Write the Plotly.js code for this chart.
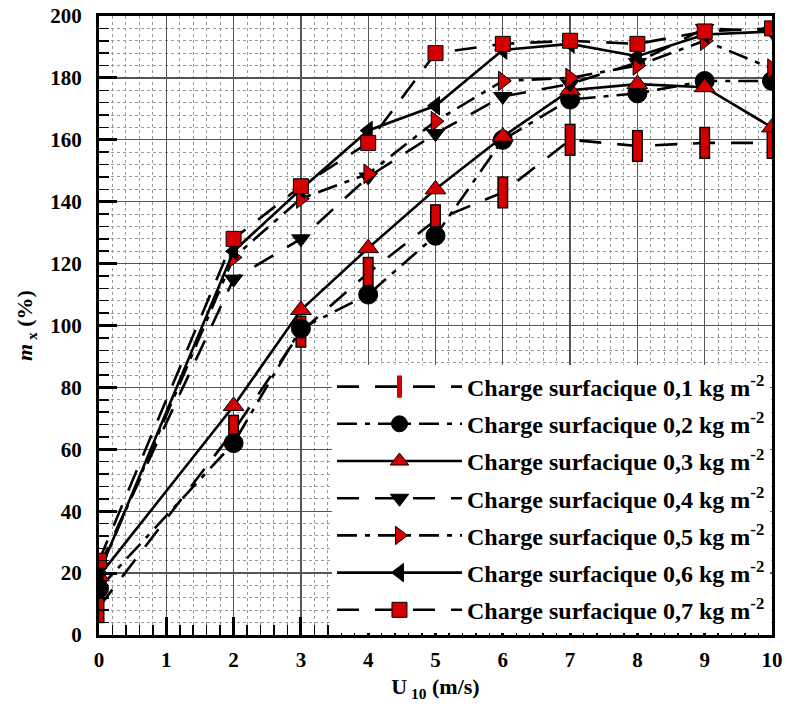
<!DOCTYPE html>
<html><head><meta charset="utf-8">
<script src="https://cdn.plot.ly/plotly-3.0.1.min.js"></script>
<style>html,body{margin:0;padding:0;background:#fff}#chart{width:787px;height:704px}</style>
</head><body><div id="chart"></div>
<script>
// wind speed U10 (m/s)
const windSpeed = [0, 2, 3, 4, 5, 6, 7, 8, 9, 10];
// m_x (%) per surface load
const load01 = [9, 66, 98, 117, 134, 143, 160, 158, 159, 159];
const load02 = [15, 62, 99, 110, 129, 160, 173, 175, 179, 179];
const load03 = [19, 74, 105, 125, 144, 161, 176, 178, 177, 164];
const load04 = [22, 115, 128, 148, 162, 174, 178, 185, 196, 195];
const load05 = [20, 122, 141, 149, 166, 179, 180, 184, 192, 183];
const load06 = [20, 124, 144, 163, 171, 189, 191, 187, 194, 195];
const load07 = [24, 128, 145, 159, 188, 191, 192, 191, 195, 196];
const seriesNames = [
  'Charge surfacique 0,1 kg m<sup>-2</sup>',
  'Charge surfacique 0,2 kg m<sup>-2</sup>',
  'Charge surfacique 0,3 kg m<sup>-2</sup>',
  'Charge surfacique 0,4 kg m<sup>-2</sup>',
  'Charge surfacique 0,5 kg m<sup>-2</sup>',
  'Charge surfacique 0,6 kg m<sup>-2</sup>',
  'Charge surfacique 0,7 kg m<sup>-2</sup>'
];
const xTickVals = [0,1,2,3,4,5,6,7,8,9,10];
const yTickVals = [0,20,40,60,80,100,120,140,160,180,200];

const RED = '#d40000';
const DASH = '22px,16px';
const DASHDOT = '20px,8px,5px,8px';
const LW = 2.6;

function tr(y, name, dash, symbol, size, color, idx, extra) {
  return Object.assign({
    x: windSpeed, y: y, name: name, type: 'scatter', mode: 'lines+markers',
    legendgroup: 'g' + idx,
    line: {color: '#000', width: LW, dash: dash},
    marker: {symbol: symbol, size: size, color: color, line: {color: '#000', width: 1}}
  }, extra || {});
}

const traces = [
  // black outline for the tall rectangle markers of the 0,1 series
  {x: windSpeed, y: load01, type: 'scatter', mode: 'markers', showlegend: false, hoverinfo: 'skip',
   marker: {symbol: 'line-ns-open', size: 23, color: '#000', line: {color: '#000', width: 11}}},
  tr(load01, seriesNames[0], DASH, 'line-ns-open', 21, RED, 1, {marker: {symbol: 'line-ns-open', size: 21, color: RED, line: {color: RED, width: 8}}}),
  tr(load02, seriesNames[1], DASHDOT, 'circle', 19, '#000', 2),
  tr(load03, seriesNames[2], 'solid', 'triangle-up', 18, RED, 3),
  tr(load04, seriesNames[3], DASH, 'triangle-down', 16, '#000', 4),
  tr(load05, seriesNames[4], DASHDOT, 'triangle-right', 17, RED, 5),
  tr(load06, seriesNames[5], 'solid', 'triangle-left', 16, '#000', 6),
  tr(load07, seriesNames[6], DASH, 'square', 15, RED, 7)
];

const FONT = '"Liberation Serif", "Times New Roman", serif';
const axisCommon = {
  showline: true, linewidth: 3, linecolor: '#000', mirror: true,
  ticks: 'inside', ticklen: 18, tickwidth: 3, tickcolor: '#000',
  showgrid: true, gridcolor: '#555', gridwidth: 1.3,
  zeroline: false,
  tickfont: {family: FONT, size: 21, color: '#000', weight: 'bold'}
};

const layout = {
  width: 787, height: 704,
  margin: {l: 99, r: 15, t: 16, b: 69},
  paper_bgcolor: '#fff', plot_bgcolor: '#fff',
  font: {family: FONT, color: '#000'},
  showlegend: true,
  xaxis: Object.assign({}, axisCommon, {
    range: [0, 10], tickvals: xTickVals, ticktext: xTickVals.map(String),
    ticklabelstandoff: 4,
    minor: {dtick: 0.2, tick0: 0, ticks: 'inside', ticklen: 10, tickwidth: 1.5, tickcolor: '#000',
            showgrid: true, gridcolor: '#999', griddash: 'dot', gridwidth: 1},
    title: {text: 'U<sub> 10</sub> (m/s)', font: {family: FONT, size: 22, color: '#000', weight: 'bold'}, standoff: 8}
  }),
  yaxis: Object.assign({}, axisCommon, {
    range: [0, 200], tickvals: yTickVals, ticktext: yTickVals.map(String),
    ticklabelstandoff: 10,
    minor: {dtick: 4, tick0: 0, ticks: 'inside', ticklen: 10, tickwidth: 1.5, tickcolor: '#000',
            showgrid: true, gridcolor: '#999', griddash: 'dot', gridwidth: 1},
    title: {text: '<i>m</i><sub> x</sub> (%)', font: {family: FONT, size: 22, color: '#000', weight: 'bold'}, standoff: 12}
  }),
  legend: {
    x: 0.997, y: 0.004, xanchor: 'right', yanchor: 'bottom',
    bgcolor: '#fff', borderwidth: 0,
    itemwidth: 125, tracegroupgap: 3,
    font: {family: FONT, size: 24, color: '#000', weight: 'bold'}
  }
};

Plotly.newPlot('chart', traces, layout, {displayModeBar: false, staticPlot: true});
</script>
</body></html>
